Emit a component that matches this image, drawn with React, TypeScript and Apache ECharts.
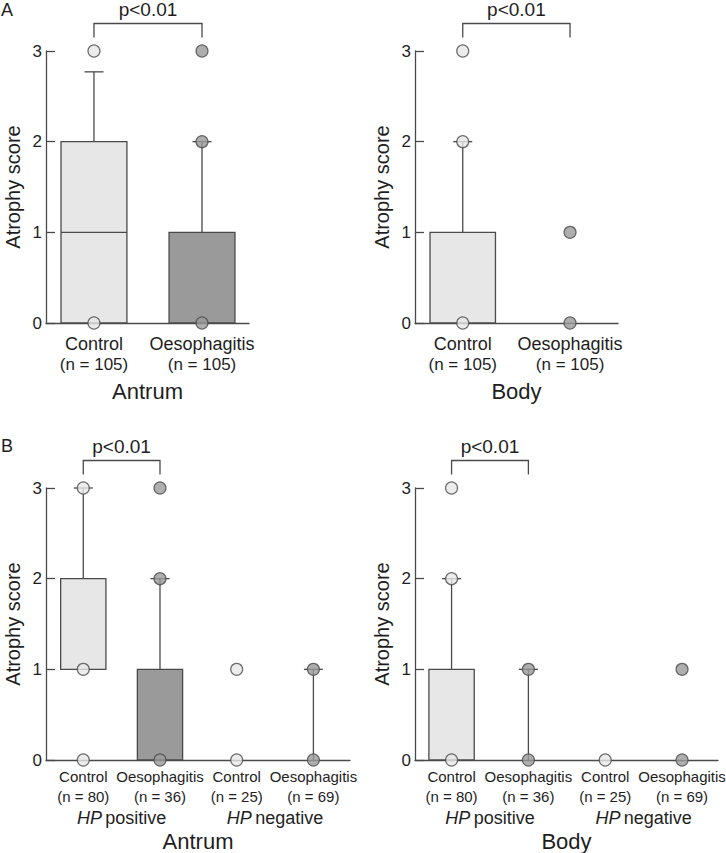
import React, { useEffect, useRef } from "react";
import * as echarts from "echarts";

// ---------- data ----------
const categoriesA = ["Control", "Oesophagitis"];
const nA = ["105", "105"];
const categoriesB = ["Control", "Oesophagitis", "Control", "Oesophagitis"];
const nB = ["80", "36", "25", "69"];
const hpGroups = ["positive", "negative"];
const yTicks = [0, 1, 2, 3];
const pText = "p<0.01";

// box statistics (null = not drawn)
const antrumA_q1 = [0, 0];
const antrumA_median = [1, null];
const antrumA_q3 = [2, 1];
const antrumA_whiskerTop = [2.77, 2];
const antrumA_points = [[0, 3], [0, 2, 3]];

const bodyA_q1 = [0, null];
const bodyA_median = [null, null];
const bodyA_q3 = [1, null];
const bodyA_whiskerTop = [2, null];
const bodyA_points = [[0, 2, 3], [0, 1]];

const antrumB_q1 = [1, 0, null, null];
const antrumB_median = [null, null, null, null];
const antrumB_q3 = [2, 1, null, null];
const antrumB_whiskerTop = [3, 2, null, 1];
const antrumB_points = [[0, 1, 3], [0, 2, 3], [0, 1], [0, 1]];

const bodyB_q1 = [0, null, null, null];
const bodyB_median = [null, null, null, null];
const bodyB_q3 = [1, null, null, null];
const bodyB_whiskerTop = [2, 1, null, null];
const bodyB_points = [[0, 2, 3], [0, 1], [0], [0, 1]];

// comparison brackets (category indices)
const compareA = [0, 1];
const compareB = [0, 1];

// ---------- styles ----------
const FONT = "'Liberation Sans', Arial, Helvetica, sans-serif";
const lineColor = "#4a4a4a";
const textColor = "#1e1e1e";
const lightFill = "#e7e7e7";
const darkFill = "#9a9a9a";

function boxSeries(xi: number, q1s: any[], meds: any[], q3s: any[], whisk: any[], ratio: number) {
  return {
    type: "custom",
    xAxisIndex: xi,
    yAxisIndex: xi,
    clip: false,
    z: 2,
    data: q1s.map((_: any, i: number) => [i, 0]),
    renderItem: (params: any, api: any) => {
      const i = params.dataIndex;
      const unit = api.size([1, 0])[0];
      const bw = unit * ratio;
      const children: any[] = [];
      const q1 = q1s[i], q3 = q3s[i], med = meds[i], wt = whisk[i];
      const fill = i % 2 === 0 ? lightFill : darkFill;
      if (wt != null) {
        const base = q3 != null ? q3 : 0;
        const pb = api.coord([i, base]);
        const pt = api.coord([i, wt]);
        children.push({ type: "line", shape: { x1: pb[0], y1: pb[1], x2: pt[0], y2: pt[1] }, style: { stroke: lineColor, lineWidth: 1.3 } });
        children.push({ type: "line", shape: { x1: pt[0] - 9.5, y1: pt[1], x2: pt[0] + 9.5, y2: pt[1] }, style: { stroke: lineColor, lineWidth: 1.3 } });
      }
      if (q1 != null && q3 != null) {
        const p1 = api.coord([i, q1]);
        const p3 = api.coord([i, q3]);
        children.push({
          type: "rect",
          shape: { x: p1[0] - bw / 2, y: p3[1], width: bw, height: p1[1] - p3[1] },
          style: { fill, stroke: lineColor, lineWidth: 1.3 },
        });
        if (med != null) {
          const pm = api.coord([i, med]);
          children.push({ type: "line", shape: { x1: pm[0] - bw / 2, y1: pm[1], x2: pm[0] + bw / 2, y2: pm[1] }, style: { stroke: lineColor, lineWidth: 1.3 } });
        }
      }
      return { type: "group", children };
    },
  };
}

function pointSeries(xi: number, pts: number[][]) {
  const data: any[] = [];
  pts.forEach((vals, i) =>
    vals.forEach((v) =>
      data.push({ value: [i, v], itemStyle: { color: i % 2 === 0 ? lightFill : darkFill } })
    )
  );
  return {
    type: "scatter",
    xAxisIndex: xi,
    yAxisIndex: xi,
    symbol: "circle",
    symbolSize: 12,
    clip: false,
    z: 5,
    itemStyle: { borderColor: lineColor, borderWidth: 1.2 },
    data,
  };
}

function bracketSeries(xi: number, pair: number[]) {
  return {
    type: "custom",
    xAxisIndex: xi,
    yAxisIndex: xi,
    clip: false,
    z: 3,
    data: [[pair[0], pair[1]]],
    renderItem: (params: any, api: any) => {
      const a = api.coord([api.value(0), 3]);
      const b = api.coord([api.value(1), 3]);
      const top = a[1] - 27.5;
      const foot = a[1] - 13.5;
      return {
        type: "group",
        children: [
          {
            type: "polyline",
            shape: { points: [[a[0], foot], [a[0], top], [b[0], top], [b[0], foot]] },
            style: { stroke: lineColor, lineWidth: 1.3, fill: null },
          },
          {
            type: "text",
            style: {
              x: (a[0] + b[0]) / 2,
              y: top - 14,
              text: pText,
              fontSize: 19,
              lineHeight: 19,
              fontFamily: FONT,
              fill: textColor,
              align: "center",
              verticalAlign: "middle",
            },
          },
        ],
      };
    },
  };
}

function xAxisMain(grid: number, min: number, max: number, cats: string[], ns: string[], f1: number, f2: number, lh: number, margin: number, name: string, nameGap: number) {
  return {
    type: "value",
    gridIndex: grid,
    min,
    max,
    axisLine: { show: true, onZero: false, lineStyle: { color: lineColor, width: 1.3 } },
    axisTick: { show: false },
    splitLine: { show: false },
    axisLabel: {
      customValues: cats.map((_, i) => i),
      margin,
      formatter: (v: number) => {
        const i = Math.round(v);
        return `{c|${cats[i]}}\n{n|(n = ${ns[i]})}`;
      },
      rich: {
        c: { fontSize: f1, lineHeight: lh, fontFamily: FONT, color: textColor },
        n: { fontSize: f2, lineHeight: lh, fontFamily: FONT, color: textColor },
      },
    },
    name,
    nameLocation: "middle",
    nameGap,
    nameTextStyle: { fontSize: 22, lineHeight: 22, fontFamily: FONT, color: textColor },
  };
}

function xAxisHP(grid: number, min: number, max: number, margin: number) {
  return {
    type: "value",
    gridIndex: grid,
    position: "bottom",
    min,
    max,
    axisLine: { show: false, onZero: false },
    axisTick: { show: false },
    splitLine: { show: false },
    axisLabel: {
      customValues: [0.5, 2.5],
      margin,
      formatter: (v: number) => {
        const i = v < 1.5 ? 0 : 1;
        return `{i|HP} {t|${hpGroups[i]}}`;
      },
      rich: {
        i: { fontSize: 18, fontStyle: "italic", fontFamily: FONT, color: textColor },
        t: { fontSize: 18, fontFamily: FONT, color: textColor },
      },
    },
  };
}

function yAxis(grid: number) {
  return {
    type: "value",
    gridIndex: grid,
    min: yTicks[0],
    max: yTicks[yTicks.length - 1],
    interval: 1,
    axisLine: { show: true, onZero: false, lineStyle: { color: lineColor, width: 1.3 } },
    axisTick: { show: true, inside: true, length: 9, lineStyle: { color: lineColor, width: 1.3 } },
    splitLine: { show: false },
    axisLabel: { margin: 4, fontSize: 17, fontFamily: FONT, color: textColor },
    name: "Atrophy score",
    nameLocation: "middle",
    nameGap: 23,
    nameTextStyle: { fontSize: 20, lineHeight: 20, fontFamily: FONT, color: textColor },
  };
}

export default function App() {
  const ref = useRef<HTMLDivElement>(null);
  useEffect(() => {
    if (!ref.current) return;
    const chart = echarts.init(ref.current, null, { renderer: "svg" });
    const g = { outerBoundsMode: "none", containLabel: false };
    const option: any = {
      animation: false,
      backgroundColor: "#ffffff",
      grid: [
        { ...g, left: 46, top: 51, width: 203, height: 272 },
        { ...g, left: 415, top: 51, width: 203, height: 272 },
        { ...g, left: 46, top: 488, width: 304, height: 272 },
        { ...g, left: 415, top: 488, width: 303, height: 272 },
      ],
      xAxis: [
        xAxisMain(0, -0.444, 1.435, categoriesA, nA, 18, 17, 21, 10, "Antrum", 57),
        xAxisMain(1, -0.445, 1.447, categoriesA, nA, 18, 17, 21, 10, "Body", 57),
        xAxisMain(2, -0.486, 3.477, categoriesB, nB, 15, 15, 20, 6, "Antrum", 70),
        xAxisMain(3, -0.476, 3.468, categoriesB, nB, 15, 15, 20, 6, "Body", 70),
        xAxisHP(2, -0.486, 3.477, 49),
        xAxisHP(3, -0.476, 3.468, 49),
      ],
      yAxis: [yAxis(0), yAxis(1), yAxis(2), yAxis(3)],
      graphic: [
        { type: "text", left: 1, top: 1, style: { text: "A", fontSize: 18, fontFamily: FONT, fill: textColor } },
        { type: "text", left: 1, top: 437, style: { text: "B", fontSize: 18, fontFamily: FONT, fill: textColor } },
      ],
      series: [
        boxSeries(0, antrumA_q1, antrumA_median, antrumA_q3, antrumA_whiskerTop, 0.61),
        pointSeries(0, antrumA_points),
        bracketSeries(0, compareA),
        boxSeries(1, bodyA_q1, bodyA_median, bodyA_q3, bodyA_whiskerTop, 0.61),
        pointSeries(1, bodyA_points),
        bracketSeries(1, compareA),
        boxSeries(2, antrumB_q1, antrumB_median, antrumB_q3, antrumB_whiskerTop, 0.59),
        pointSeries(2, antrumB_points),
        bracketSeries(2, compareB),
        boxSeries(3, bodyB_q1, bodyB_median, bodyB_q3, bodyB_whiskerTop, 0.59),
        pointSeries(3, bodyB_points),
        bracketSeries(3, compareB),
      ],
    };
    chart.setOption(option);
    return () => chart.dispose();
  }, []);
  return (
    <div
      ref={ref}
      style={{ position: "absolute", left: 0, top: 0, width: 726, height: 853, background: "#fff" }}
    />
  );
}
